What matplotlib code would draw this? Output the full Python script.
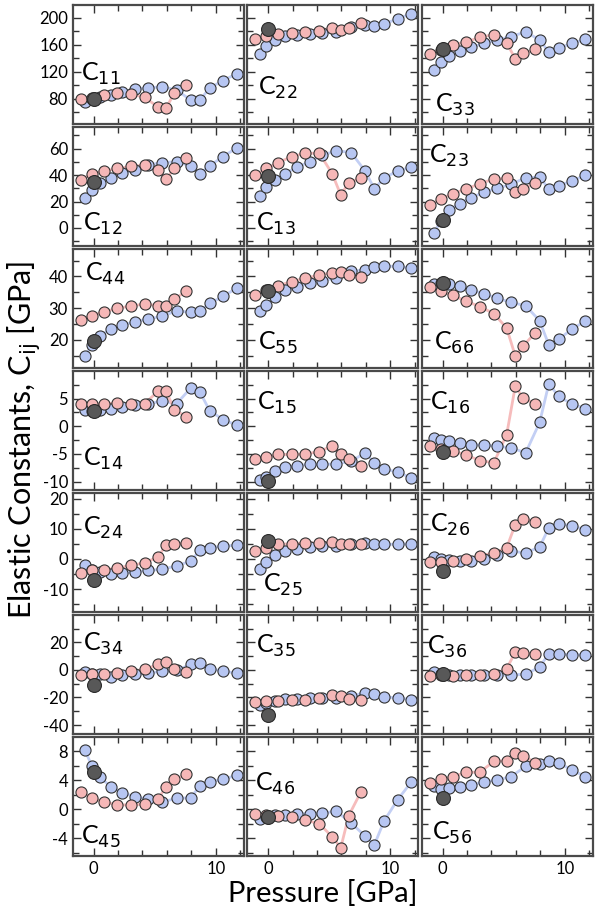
import matplotlib.pyplot as plt
from matplotlib.ticker import MultipleLocator

plt.rcParams['font.family'] = ['Lato', 'DejaVu Sans']
plt.rcParams['axes.unicode_minus'] = False

# pressures (GPa) of the two computed branches and the experiment
p_blue = [-0.7, -0.15, 0.55, 1.4, 2.35, 3.4, 4.45, 5.6, 6.8, 7.95, 8.7, 9.5, 10.6, 11.7]
p_red = [-1.05, -0.15, 0.85, 1.95, 3.05, 4.2, 5.25, 5.95, 6.6, 7.6]
p_exp = 0.0

c11_b = [75, 80, 82, 86, 90, 95, 96, 98, 93, 78, 78, 96, 107, 117]
c11_r = [80, 81, 85, 88, 87, 82, 68, 67, 88, 101]
c22_b = [146, 158, 167, 173, 175, 176, 178, 179, 186, 189, 188, 191, 198, 206]
c22_r = [168, 173, 176, 177, 179, 181, 185, 182, 185, 192]
c33_b = [122, 134, 143, 151, 156, 162, 167, 172, 179, 167, 149, 155, 162, 168]
c33_r = [146, 152, 160, 164, 171, 175, 163, 139, 147, 153]
c12_b = [23, 29, 34, 38, 41.5, 44, 47.5, 49.5, 50, 47, 41, 47, 54, 60.5]
c12_r = [36.5, 41, 43, 45, 46.5, 47.5, 44, 37, 45, 53]
c13_b = [24, 31, 36, 41, 46, 50, 55, 58.5, 57, 43, 29.5, 38, 43, 46]
c13_r = [40, 45, 49.5, 54, 56.5, 56.5, 41, 25, 34, 38]
c23_b = [-3.5, 5, 13.5, 18.5, 23, 27, 30, 33, 38, 38.5, 29.5, 32, 35.5, 40]
c23_r = [17, 22, 26, 29.5, 33.5, 37, 37.5, 27, 29.5, 34]
c44_b = [15, 18.3, 21.3, 23.4, 24.7, 25.7, 26.6, 27.4, 29.2, 28.7, 29, 31.5, 33.7, 36.3]
c44_r = [26.3, 27.6, 28.9, 29.9, 30.7, 31.3, 30.8, 30.7, 32.9, 35.3]
c55_b = [29, 31, 33.4, 35.6, 36.6, 37.9, 38.7, 39.6, 41.6, 42.1, 43, 43.2, 43.2, 42.6]
c55_r = [34.2, 35.6, 37.1, 38.4, 39.5, 40.4, 41.2, 41.4, 40.4, 39.8]
c66_b = [37.7, 37.9, 37.7, 36.9, 35.8, 34.5, 33.2, 31.8, 30.8, 26, 18.4, 20.2, 23.4, 26]
c66_r = [36.8, 35.3, 34, 32.2, 30.5, 28.3, 23.7, 15, 18.1, 22.3]
c14_b = [3, 2.8, 3, 3.1, 3.5, 3.8, 4.1, 4.5, 4.1, 6.9, 6.2, 2.8, 1.2, 0.2]
c14_r = [4, 4, 4.1, 4.2, 4, 4.1, 6.3, 6.3, 3, 1.7]
c15_b = [-9.7, -9.1, -8, -7.4, -7.1, -6.9, -6.9, -6.8, -6.3, -4.8, -6.6, -7.7, -8.3, -9.3]
c15_r = [-6, -5.6, -5.1, -5.1, -5, -4.6, -3.5, -5, -6, -7.1]
c16_b = [-2.2, -2.4, -2.7, -3, -3.3, -3.4, -3.6, -3.9, -4.8, 0.7, 7.7, 5.4, 4, 3.2]
c16_r = [-3.6, -4.2, -4.5, -5.2, -6.2, -6.6, -1.5, 7.2, 5.1, 4]
c24_b = [-2.1, -3.8, -4.3, -4.9, -4.6, -4.3, -3.8, -3.4, -2.3, -0.7, 2.9, 3.8, 4.2, 4.6]
c24_r = [-4.6, -3.8, -3.6, -3, -2.1, -1.3, 0.7, 4.6, 4.9, 5.3]
c25_b = [-3.4, -1, 1.4, 2.7, 3.4, 4, 4.3, 4.3, 5.1, 5.3, 4.9, 4.8, 4.9, 5.1]
c25_r = [2.6, 3.7, 4.8, 5.1, 5.3, 5.3, 5.7, 5.1, 4.8, 4.9]
c26_b = [0.7, 0.1, -0.4, -0.7, -0.7, 0.1, 1.4, 2.6, 2, 4, 10.3, 11.6, 11, 9.6]
c26_r = [-1, -1, -0.7, 0.1, 1, 2, 3.7, 11.4, 13.4, 12.3]
c34_b = [-1.5, -2.7, -3.3, -4.8, -4, -3.3, -2.3, -1, -0.3, 4, 5.2, 1, -1, -2.3]
c34_r = [-4, -3.3, -2.7, -2, -1, 0.3, 4, 6, 0.5, -1.5]
c35_b = [-25.8, -24, -22.2, -21, -21, -20.3, -20.3, -20.7, -19, -16.5, -17.7, -19.5, -20.3, -21.5]
c35_r = [-23.5, -22.8, -22.2, -22, -21.5, -20.3, -18.3, -19, -21, -22]
c36_b = [-1.5, -2.7, -4, -4, -4, -4, -4, -3.5, -3.3, 2.2, 11.7, 11.5, 11, 11]
c36_r = [-4.5, -4, -4.5, -4, -3.5, -3.3, 1, 12.7, 12.3, 11.7]
c45_b = [8.1, 6, 4.4, 3.1, 2.3, 1.7, 1.4, 1, 1.5, 1.6, 3.2, 3.8, 4.1, 4.7]
c45_r = [2.4, 1.6, 1, 0.6, 0.6, 0.7, 1.4, 3.1, 4.1, 4.8]
c46_b = [-1.3, -1, -0.8, -0.8, -0.6, -0.6, -0.5, -0.3, -1.9, -3.7, -4.9, -1.6, 1.3, 3.7]
c46_r = [-0.6, -0.8, -0.9, -1.1, -1.5, -2, -3.8, -5.3, -0.9, 2.4]
c56_b = [3.2, 2.8, 2.9, 3.1, 3.3, 3.8, 4, 4.5, 5.9, 6.2, 6.7, 6.4, 5.4, 4.5]
c56_r = [3.6, 4.1, 4.5, 5.1, 5.1, 6.6, 6.7, 7.7, 7.4, 6.4]

# experimental values at ambient pressure
exp_vals = {'11': 79, '22': 183, '33': 153, '12': 35, '13': 39, '23': 6,
            '44': 19.7, '55': 35.3, '66': 38, '14': 2.7, '15': -9.9, '16': -4.6,
            '24': -6.8, '25': 6, '26': -4.1, '34': -10.8, '35': -32.7, '36': -3.3,
            '45': 5.2, '46': -1.1, '56': 1.5}

layout = [
    [('11', c11_b, c11_r), ('22', c22_b, c22_r), ('33', c33_b, c33_r)],
    [('12', c12_b, c12_r), ('13', c13_b, c13_r), ('23', c23_b, c23_r)],
    [('44', c44_b, c44_r), ('55', c55_b, c55_r), ('66', c66_b, c66_r)],
    [('14', c14_b, c14_r), ('15', c15_b, c15_r), ('16', c16_b, c16_r)],
    [('24', c24_b, c24_r), ('25', c25_b, c25_r), ('26', c26_b, c26_r)],
    [('34', c34_b, c34_r), ('35', c35_b, c35_r), ('36', c36_b, c36_r)],
    [('45', c45_b, c45_r), ('46', c46_b, c46_r), ('56', c56_b, c56_r)],
]

# per-row y settings: limits, major step, minor step
row_ylim = [(42, 218), (-14, 76), (11, 48.5), (-11.6, 9.9), (-17.7, 21.7), (-46.8, 39.5), (-6.5, 9.9)]
row_major = [40, 20, 10, 5, 10, 20, 4]
row_minor = [20, 10, 5, 2.5, 5, 10, 2]

# label positions (axes fraction, baseline)
label_pos = {'11': (0.05, 0.37), '22': (0.06, 0.25), '33': (0.08, 0.11),
             '12': (0.06, 0.13), '13': (0.05, 0.13), '23': (0.045, 0.70),
             '44': (0.07, 0.74), '55': (0.065, 0.16), '66': (0.07, 0.16),
             '14': (0.06, 0.21), '15': (0.057, 0.675), '16': (0.05, 0.675),
             '24': (0.06, 0.655), '25': (0.09, 0.17), '26': (0.05, 0.68),
             '34': (0.057, 0.70), '35': (0.05, 0.69), '36': (0.03, 0.675),
             '45': (0.05, 0.11), '46': (0.045, 0.555), '56': (0.057, 0.14)}

blue_face, blue_line = '#b7c6f2', '#c3cff4'
red_face, red_line = '#f5b7b7', '#f6bcbc'
edge = '#333333'

fig, axes = plt.subplots(7, 3, figsize=(5.97, 9.14), dpi=100, sharex=True)
fig.subplots_adjust(left=0.122, right=0.993, top=0.994, bottom=0.063,
                    wspace=0.02, hspace=0.025)

for i, row in enumerate(layout):
    for j, (name, yb, yr) in enumerate(row):
        ax = axes[i, j]
        ax.plot(p_blue, yb, '-', color=blue_line, lw=2, zorder=1)
        ax.plot(p_red, yr, '-', color=red_line, lw=2, zorder=1)
        ax.plot(p_blue, yb, 'o', ms=8, mfc=blue_face, mec=edge, mew=0.8, zorder=2)
        ax.plot(p_red, yr, 'o', ms=8, mfc=red_face, mec=edge, mew=0.8, zorder=3)
        ax.plot([p_exp], [exp_vals[name]], 'o', ms=10, mfc='#585858', mec='#2a2a2a',
                mew=0.8, zorder=4)

        ax.set_xlim(-1.7, 12.3)
        ax.set_ylim(*row_ylim[i])
        ax.xaxis.set_major_locator(MultipleLocator(10))
        ax.xaxis.set_minor_locator(MultipleLocator(2))
        ax.yaxis.set_major_locator(MultipleLocator(row_major[i]))
        ax.yaxis.set_minor_locator(MultipleLocator(row_minor[i]))
        ax.tick_params(which='both', direction='in', top=True, right=True,
                       color='#333333', labelsize=12)
        ax.tick_params(which='major', length=6, width=1)
        ax.tick_params(which='minor', length=4, width=1)
        if j > 0:
            ax.tick_params(labelleft=False)
        for s in ax.spines.values():
            s.set_linewidth(1.6)
            s.set_color('#4a4a4a')

        lx, ly = label_pos[name]
        ax.text(lx, ly, 'C$_{' + name + '}$', transform=ax.transAxes,
                fontsize=18, va='baseline', ha='left', zorder=5)

for ax in axes[-1]:
    ax.set_xticks([0, 10])
    ax.set_xticklabels(['0', '10'])

fig.text(0.54, 0.008, 'Pressure [GPa]', ha='center', va='bottom', fontsize=21)
fig.text(0.008, 0.519, 'Elastic Constants, C$_{\\mathrm{ij}}$ [GPa]', rotation=90,
         ha='left', va='center', fontsize=22)

fig.savefig('out.png', dpi=100)
